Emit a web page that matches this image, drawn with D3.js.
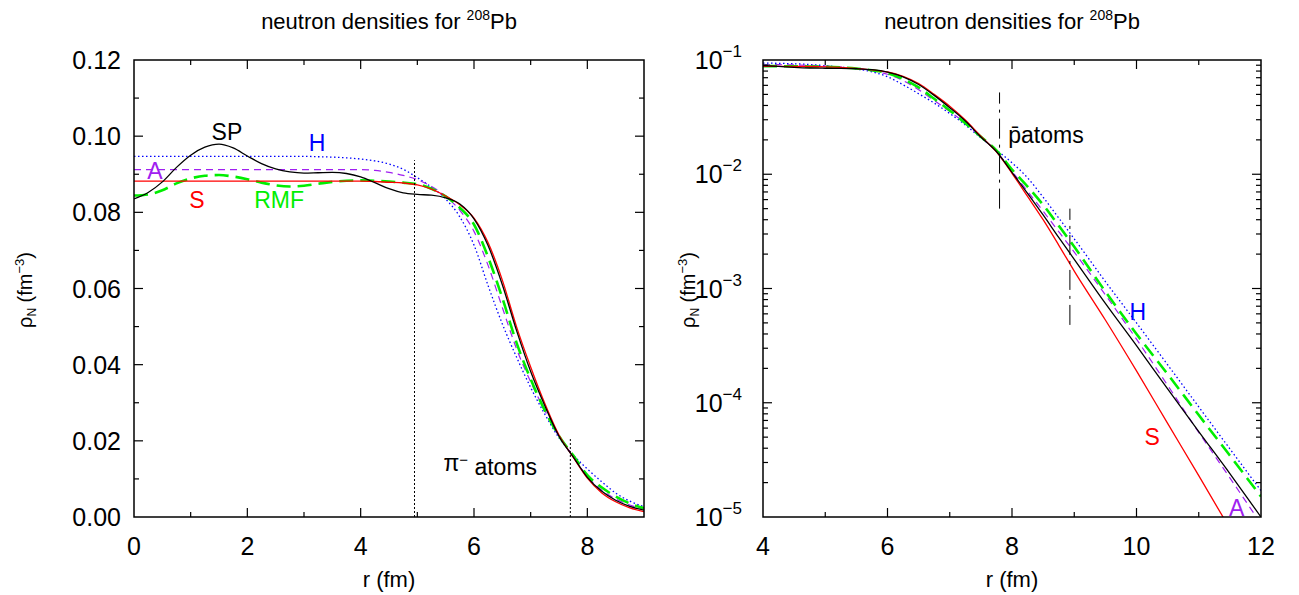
<!DOCTYPE html>
<html>
<head>
<meta charset="utf-8">
<script src="https://cdn.jsdelivr.net/npm/d3@7"></script>
<style>
  body { margin: 0; background: #fff; }
  text { font-family: "Liberation Sans", Arial, sans-serif; fill: #000; }
</style>
</head>
<body>
<svg id="chart" width="1299" height="595"></svg>
<script>
/* DATA: neutron densities for 208Pb, rho_N (fm^-3) vs r (fm) */
const radius = [0, 0.25, 0.5, 0.75, 1, 1.25, 1.5, 1.75, 2, 2.25, 2.5, 2.75, 3, 3.25, 3.5, 3.75,
  4, 4.25, 4.5, 4.75, 5, 5.25, 5.5, 5.75, 6, 6.25, 6.5, 6.75, 7, 7.25, 7.5, 7.75,
  8, 8.25, 8.5, 8.75, 9, 9.5, 10, 10.5, 11, 11.5, 12];

const rhoSP = [0.0835, 0.0852, 0.0880, 0.0918, 0.0950, 0.0971, 0.0979, 0.0969, 0.0948, 0.0928, 0.0914, 0.0906, 0.0903, 0.0904, 0.0905, 0.0902,
  0.0893, 0.0878, 0.0862, 0.0851, 0.0847, 0.0845, 0.0838, 0.0822, 0.0783, 0.0712, 0.0610, 0.0490, 0.0382, 0.0292, 0.0212, 0.0158,
  0.0104, 0.0068, 0.0044, 0.00280, 0.00180, 7.4e-4, 3.16e-4, 1.32e-4, 5.6e-5, 2.4e-5, 1.0e-5];

const rhoS = [0.0882, 0.0882, 0.0882, 0.0882, 0.0882, 0.0882, 0.0882, 0.0882, 0.0882, 0.0882, 0.0882, 0.0882, 0.0882, 0.0882, 0.0882, 0.0882,
  0.0882, 0.0881, 0.0879, 0.0877, 0.0872, 0.0861, 0.0843, 0.0820, 0.0785, 0.0720, 0.0622, 0.0500, 0.0394, 0.0298, 0.0215, 0.0157,
  0.0102, 0.0064, 0.0040, 0.0024, 0.00142, 5.3e-4, 1.9e-4, 6.6e-5, 2.3e-5, 7.9e-6, 2.7e-6];

const rhoA = [0.0912, 0.0912, 0.0912, 0.0912, 0.0912, 0.0912, 0.0912, 0.0912, 0.0912, 0.0912, 0.0912, 0.0912, 0.0912, 0.0912, 0.0912, 0.0912,
  0.0912, 0.0910, 0.0905, 0.0897, 0.0886, 0.0868, 0.0842, 0.0805, 0.0750, 0.0660, 0.0550, 0.0442, 0.0355, 0.0280, 0.0212, 0.0158,
  0.0106, 0.0071, 0.00475, 0.00315, 0.00208, 8.8e-4, 3.6e-4, 1.42e-4, 5.5e-5, 2.2e-5, 8.7e-6];

const rhoH = [0.0947, 0.0947, 0.0947, 0.0947, 0.0947, 0.0947, 0.0947, 0.0947, 0.0947, 0.0947, 0.0947, 0.0947, 0.0947, 0.0946, 0.0945, 0.0943,
  0.0940, 0.0935, 0.0927, 0.0913, 0.0891, 0.0866, 0.0835, 0.0788, 0.0714, 0.0607, 0.0507, 0.0420, 0.0340, 0.0270, 0.0208, 0.0163,
  0.0126, 0.0093, 0.0063, 0.00415, 0.00272, 1.15e-3, 5.0e-4, 2.15e-4, 9.2e-5, 3.95e-5, 1.7e-5];

const rhoRMF = [0.0844, 0.0847, 0.0858, 0.0876, 0.0889, 0.0896, 0.0898, 0.0894, 0.0887, 0.0878, 0.0871, 0.0868, 0.0870, 0.0875, 0.0880, 0.0883,
  0.0884, 0.0883, 0.0881, 0.0878, 0.0874, 0.0862, 0.0842, 0.0812, 0.0768, 0.0682, 0.0575, 0.0458, 0.0362, 0.0280, 0.0213, 0.0162,
  0.0110, 0.0078, 0.0054, 0.00355, 0.00232, 9.4e-4, 4.0e-4, 1.78e-4, 7.8e-5, 3.45e-5, 1.51e-5];

// vertical markers (r, rho range)
const pionMarks = [[4.95, 0, 0.0937], [7.7, 0, 0.0206]];
const pbarMarks = [[7.8, 0.005, 0.052], [8.93, 0.00048, 0.005]];

/* CONSTANTS */
const svg = d3.select("#chart");
const left = { x0: 134, x1: 644, y0: 60, y1: 517 };
const right = { x0: 763, x1: 1261, y0: 60, y1: 517 };
const tickFont = "25px", titleFont = "22px", axisFont = "22px", curveFont = 23;

const series = [
  { name: "H", values: rhoH, color: "#0000ff", width: 1.3, dash: "1.5,2.5" },
  { name: "A", values: rhoA, color: "#a020f0", width: 1.2, dash: "7,5" },
  { name: "RMF", values: rhoRMF, color: "#00ee00", width: 2.6, dash: "14,7" },
  { name: "S", values: rhoS, color: "#ff0000", width: 1.3, dash: null },
  { name: "SP", values: rhoSP, color: "#000000", width: 1.3, dash: null }
];

/* SCALES */
const xL = d3.scaleLinear().domain([0, 9]).range([left.x0, left.x1]);
const yL = d3.scaleLinear().domain([0, 0.12]).range([left.y1, left.y0]);
const xR = d3.scaleLinear().domain([4, 12]).range([right.x0, right.x1]);
const yR = d3.scaleLog().domain([1e-5, 1e-1]).range([right.y1, right.y0]);

const defs = svg.append("defs");
defs.append("clipPath").attr("id", "clipL").append("rect")
  .attr("x", left.x0).attr("y", left.y0).attr("width", left.x1 - left.x0).attr("height", left.y1 - left.y0);
defs.append("clipPath").attr("id", "clipR").append("rect")
  .attr("x", right.x0).attr("y", right.y0).attr("width", right.x1 - right.x0).attr("height", right.y1 - right.y0);

function ticks(g, box, xs, ys, xScale, yScale) {
  // x ticks bottom + top, y ticks left + right (all inward)
  xs.forEach(([v, len]) => {
    const x = xScale(v);
    g.append("line").attr("x1", x).attr("x2", x).attr("y1", box.y1).attr("y2", box.y1 - len);
    g.append("line").attr("x1", x).attr("x2", x).attr("y1", box.y0).attr("y2", box.y0 + len);
  });
  ys.forEach(([v, len]) => {
    const y = yScale(v);
    g.append("line").attr("x1", box.x0).attr("x2", box.x0 + len).attr("y1", y).attr("y2", y);
    g.append("line").attr("x1", box.x1).attr("x2", box.x1 - len).attr("y1", y).attr("y2", y);
  });
  g.selectAll("line").attr("stroke", "#000").attr("stroke-width", 1.2);
}

function title(x, text1) {
  const t = svg.append("text").attr("x", x).attr("y", 29).attr("text-anchor", "middle").style("font-size", titleFont);
  t.append("tspan").text(text1);
  t.append("tspan").attr("dy", -9).style("font-size", "14px").text("208");
  t.append("tspan").attr("dy", 9).text("Pb");
}

function yLabel(x) {
  const t = svg.append("text")
    .attr("transform", `translate(${x},290) rotate(-90)`)
    .attr("text-anchor", "middle").style("font-size", "20px");
  t.append("tspan").text("ρ");
  t.append("tspan").attr("dy", 4).style("font-size", "12px").text("N");
  t.append("tspan").attr("dy", -4).text(" (fm");
  t.append("tspan").attr("dy", -8).style("font-size", "13px").text("−3");
  t.append("tspan").attr("dy", 8).text(")");
}

function drawCurves(g, xScale, yScale, x0, clipId) {
  const lineGen = d3.line()
    .x(d => xScale(d[0]))
    .y(d => yScale(d[1]))
    .curve(d3.curveMonotoneX);
  const cg = g.append("g").attr("clip-path", `url(#${clipId})`);
  series.forEach(s => {
    const pts = radius.map((r, i) => [r, s.values[i]]).filter(d => d[0] >= x0);
    cg.append("path")
      .attr("d", lineGen(pts))
      .attr("fill", "none")
      .attr("stroke", s.color)
      .attr("stroke-width", s.width)
      .attr("stroke-dasharray", s.dash);
  });
}

function label(x, y, text, color, size, anchor) {
  return svg.append("text").attr("x", x).attr("y", y).attr("dy", "0.35em")
    .attr("text-anchor", anchor || "middle")
    .style("font-size", (size || curveFont) + "px")
    .style("fill", color).text(text);
}

/* LEFT PANEL */
const gL = svg.append("g");
title(389, "neutron densities for ");
yLabel(32);

drawCurves(gL, xL, yL, 0, "clipL");

// pion atom markers
pionMarks.forEach(([r, lo, hi]) => {
  gL.append("line").attr("x1", xL(r)).attr("x2", xL(r)).attr("y1", yL(lo)).attr("y2", yL(hi))
    .attr("stroke", "#000").attr("stroke-width", 1).attr("stroke-dasharray", "2,2");
});

ticks(gL.append("g"), left,
  d3.range(1, 9).map(v => [v, v % 2 === 0 ? 9 : 5]),
  d3.range(1, 12).map(v => [v / 100, v % 2 === 0 ? 9 : 5]),
  xL, yL);

gL.append("rect").attr("x", left.x0).attr("y", left.y0)
  .attr("width", left.x1 - left.x0).attr("height", left.y1 - left.y0)
  .attr("fill", "none").attr("stroke", "#000").attr("stroke-width", 1.5);

[0, 0.02, 0.04, 0.06, 0.08, 0.10, 0.12].forEach(v => {
  svg.append("text").attr("x", left.x0 - 13).attr("y", yL(v)).attr("dy", "0.36em")
    .attr("text-anchor", "end").style("font-size", tickFont).text(v.toFixed(2));
});
[0, 2, 4, 6, 8].forEach(v => {
  svg.append("text").attr("x", xL(v)).attr("y", left.y1 + 29).attr("dy", "0.36em")
    .attr("text-anchor", "middle").style("font-size", tickFont).text(v);
});
svg.append("text").attr("x", 389).attr("y", 579).attr("dy", "0.35em")
  .attr("text-anchor", "middle").style("font-size", axisFont).text("r (fm)");

label(xL(1.64), yL(0.1011), "SP", "#000");
label(xL(3.23), yL(0.0981), "H", "#0000ff");
label(xL(0.37), yL(0.0909), "A", "#a020f0");
label(xL(1.11), yL(0.0833), "S", "#ff0000");
label(xL(2.56), yL(0.0833), "RMF", "#00ee00");
const pi = label(xL(5.46), yL(0.0141), "", "#000", curveFont, "start");
pi.append("tspan").text("π");
pi.append("tspan").attr("dy", "-0.45em").style("font-size", "15px").text("−");
pi.append("tspan").attr("dy", "0.45em").text(" atoms");

/* RIGHT PANEL */
const gR = svg.append("g");
title(1012, "neutron densities for ");
yLabel(695);

drawCurves(gR, xR, yR, 4, "clipR");

pbarMarks.forEach(([r, lo, hi]) => {
  gR.append("line").attr("x1", xR(r)).attr("x2", xR(r)).attr("y1", yR(lo)).attr("y2", yR(hi))
    .attr("stroke", "#000").attr("stroke-width", 1).attr("stroke-dasharray", "20,6,3,6");
});

const logMinor = [];
[-5, -4, -3, -2].forEach(e => {
  for (let m = 1; m < 10; m++) logMinor.push([m * Math.pow(10, e), m === 1 ? 9 : 5]);
});
ticks(gR.append("g"), right,
  d3.range(5, 12).map(v => [v, v % 2 === 0 ? 9 : 5]),
  logMinor.filter(d => d[0] > 1.01e-5),
  xR, yR);

gR.append("rect").attr("x", right.x0).attr("y", right.y0)
  .attr("width", right.x1 - right.x0).attr("height", right.y1 - right.y0)
  .attr("fill", "none").attr("stroke", "#000").attr("stroke-width", 1.5);

[1e-1, 1e-2, 1e-3, 1e-4, 1e-5].forEach(v => {
  const t = svg.append("text").attr("x", right.x0 - 21).attr("y", yR(v) + 9)
    .attr("text-anchor", "end").style("font-size", tickFont);
  t.append("tspan").text("10");
  t.append("tspan").attr("dy", -12).style("font-size", "17px").text("−" + Math.round(-Math.log10(v)));
});
[4, 6, 8, 10, 12].forEach(v => {
  svg.append("text").attr("x", xR(v)).attr("y", right.y1 + 29).attr("dy", "0.36em")
    .attr("text-anchor", "middle").style("font-size", tickFont).text(v);
});
svg.append("text").attr("x", 1012).attr("y", 579).attr("dy", "0.35em")
  .attr("text-anchor", "middle").style("font-size", axisFont).text("r (fm)");

const pb = label(xR(7.94), yR(0.0221), "", "#000", curveFont, "start");
pb.append("tspan").text("p\u0304");
pb.append("tspan").text("atoms");
label(xR(10.02), yR(6.2e-4), "H", "#0000ff");
label(xR(10.25), yR(5.0e-5), "S", "#ff0000");
label(xR(11.61), yR(1.2e-5), "A", "#a020f0");
</script>
</body>
</html>
